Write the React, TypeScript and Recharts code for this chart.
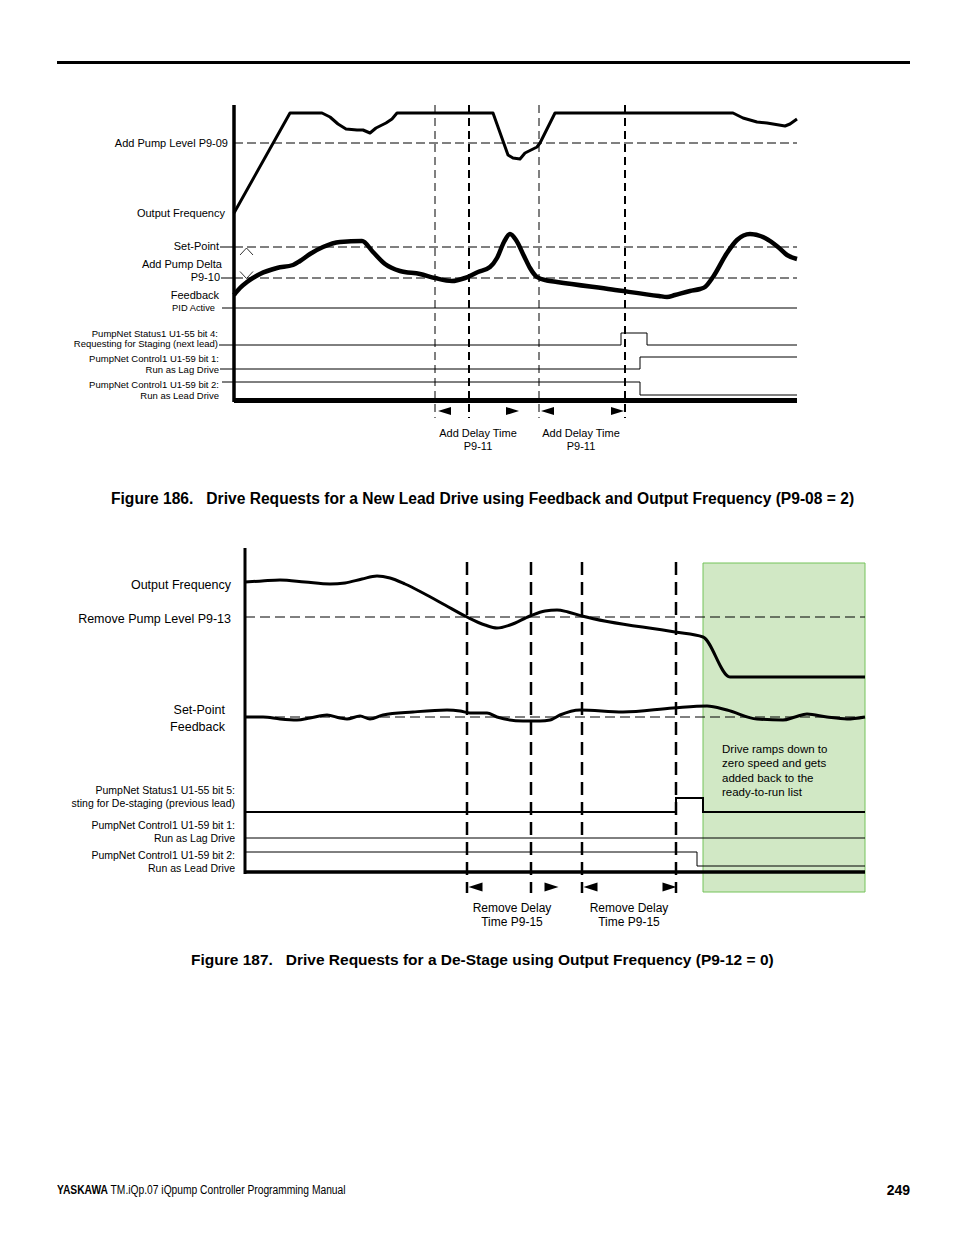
import React from 'react';
import { ComposedChart, Line, Scatter, XAxis, YAxis, ReferenceLine, ReferenceArea } from 'recharts';

const FONT = "'Liberation Sans', Arial, Helvetica, sans-serif";

// ---------- Figure 186 data (t = time from axis, v = level above bottom) ----------
const f186OutputFreq = [
  { t: 0, v: 212 }, { t: 56, v: 312 }, { t: 88, v: 312 }, { t: 96, v: 308 }, { t: 104, v: 301 },
  { t: 112, v: 296 }, { t: 123, v: 295 }, { t: 129, v: 295 }, { t: 136, v: 292 }, { t: 142, v: 297 },
  { t: 152, v: 302 }, { t: 158, v: 306 }, { t: 163, v: 312 }, { t: 259, v: 312 }, { t: 274, v: 270 },
  { t: 279, v: 267 }, { t: 286, v: 266 }, { t: 291, v: 272 }, { t: 303, v: 278 }, { t: 306, v: 282 },
  { t: 321, v: 312 }, { t: 499, v: 312 }, { t: 509, v: 307 }, { t: 523, v: 303 }, { t: 533, v: 302 },
  { t: 551, v: 299 }, { t: 556, v: 301 }, { t: 563, v: 306 },
];
const f186Feedback = [
  { t: 0, v: 130 }, { t: 6, v: 137 }, { t: 13, v: 143 }, { t: 26, v: 151 }, { t: 43, v: 157 },
  { t: 59, v: 160 }, { t: 66, v: 164 }, { t: 76, v: 171 }, { t: 89, v: 178 }, { t: 106, v: 183 },
  { t: 128, v: 184 }, { t: 139, v: 173 }, { t: 151, v: 161 }, { t: 166, v: 154 }, { t: 186, v: 151 },
  { t: 201, v: 147 }, { t: 218, v: 144 }, { t: 231, v: 147 }, { t: 244, v: 153 }, { t: 256, v: 158 },
  { t: 263, v: 167 }, { t: 270, v: 183 }, { t: 276, v: 191 }, { t: 282, v: 185 }, { t: 290, v: 169 },
  { t: 296, v: 157 }, { t: 303, v: 148 }, { t: 313, v: 144.5 }, { t: 323, v: 143 }, { t: 378, v: 135.5 },
  { t: 425, v: 129 }, { t: 433, v: 128 }, { t: 441, v: 130 }, { t: 456, v: 134 }, { t: 466, v: 136 },
  { t: 471, v: 138 }, { t: 479, v: 148 }, { t: 493, v: 172 }, { t: 503, v: 185 }, { t: 516, v: 191 },
  { t: 531, v: 187 }, { t: 544, v: 178 }, { t: 553, v: 170 }, { t: 563, v: 166 },
];
const f186PidActive = [{ t: 0, v: 117 }, { t: 563, v: 117 }];
const f186StagingReq = [{ t: 0, v: 80 }, { t: 387, v: 92 }, { t: 413, v: 80 }, { t: 563, v: 80 }];
const f186RunAsLag = [{ t: 0, v: 56 }, { t: 406, v: 68 }, { t: 563, v: 68 }];
const f186RunAsLead = [{ t: 0, v: 43 }, { t: 406, v: 30 }, { t: 563, v: 30 }];
const f186AddPumpLevel = 282;
const f186SetPoint = 178;
const f186AddPumpDelta = 147;
const f186DeltaMarks = [{ t: 12.5, v: 173.5, dir: 'up' }, { t: 12.5, v: 150, dir: 'down' }];
const f186DelayMarksThin = [201, 305];
const f186DelayMarksThick = [235, 391];
const f186Arrows = [
  { t: 210.5, v: 14, dir: 'left' }, { t: 278.5, v: 14, dir: 'right' },
  { t: 313.5, v: 14, dir: 'left' }, { t: 383.5, v: 14, dir: 'right' },
];
const f186LeftTicks = [282, 212, 178, 161, 147, 130, 117, 80, 56, 43];
const f186LeftLabels = [
  ['Add Pump Level P9-09'], ['Output Frequency'], ['Set-Point'], ['Add Pump Delta'], ['P9-10'],
  ['Feedback'], ['PID Active'],
  ['PumpNet Status1 U1-55 bit 4:', 'Requesting for Staging (next lead)'],
  ['PumpNet Control1 U1-59 bit 1:', 'Run as Lag Drive'],
  ['PumpNet Control1 U1-59 bit 2:', 'Run as Lead Drive'],
];
const f186BottomTicks = [244, 347];
const f186BottomLabels = [['Add Delay Time', 'P9-11'], ['Add Delay Time', 'P9-11']];

// ---------- Figure 187 data ----------
const f187OutputFreq = [
  { t: 0, v: 315 }, { t: 17, v: 316 }, { t: 35, v: 317 }, { t: 60, v: 315 }, { t: 85, v: 313 },
  { t: 100, v: 314 }, { t: 117, v: 318 }, { t: 132, v: 321 }, { t: 145, v: 319 }, { t: 160, v: 313 },
  { t: 178, v: 304 }, { t: 200, v: 292 }, { t: 222, v: 280 }, { t: 240, v: 272 }, { t: 252, v: 269 },
  { t: 265, v: 272 }, { t: 285, v: 281 }, { t: 300, v: 286 }, { t: 312, v: 287 }, { t: 323, v: 285 },
  { t: 337, v: 281 }, { t: 430, v: 265 }, { t: 458, v: 260 }, { t: 485, v: 220 }, { t: 620, v: 220 },
];
const f187Feedback = [
  { t: 0, v: 180 }, { t: 18, v: 180 }, { t: 35, v: 178 }, { t: 52, v: 177 }, { t: 65, v: 179 },
  { t: 82, v: 182 }, { t: 95, v: 179 }, { t: 102, v: 178 }, { t: 115, v: 181 }, { t: 125, v: 178 },
  { t: 138, v: 182 }, { t: 168, v: 185 }, { t: 202, v: 187 }, { t: 215, v: 186 }, { t: 225, v: 184 },
  { t: 242, v: 184 }, { t: 252, v: 180 }, { t: 278, v: 176 }, { t: 295, v: 176 }, { t: 305, v: 177 },
  { t: 315, v: 182 }, { t: 335, v: 187 }, { t: 378, v: 185 }, { t: 428, v: 189 }, { t: 462, v: 191 },
  { t: 482, v: 187 }, { t: 512, v: 178 }, { t: 538, v: 177 }, { t: 550, v: 180 }, { t: 562, v: 183 },
  { t: 582, v: 180 }, { t: 602, v: 178 }, { t: 620, v: 180 },
];
const f187DestagingReq = [{ t: 0, v: 85 }, { t: 431, v: 99 }, { t: 458, v: 85 }, { t: 620, v: 85 }];
const f187RunAsLag = [{ t: 0, v: 59 }, { t: 620, v: 59 }];
const f187RunAsLead = [{ t: 0, v: 45 }, { t: 452, v: 31 }, { t: 620, v: 31 }];
const f187RemovePumpLevel = 280;
const f187SetPoint = 180;
const f187DelayMarks = [222, 286, 337, 431];
const f187RampZone = [458, 620];
const f187RampNote = ['Drive ramps down to', 'zero speed and gets', 'added back to the', 'ready-to-run list'];
const f187Arrows = [
  { t: 230.5, v: 10, dir: 'left' }, { t: 306.5, v: 10, dir: 'right' },
  { t: 345.5, v: 10, dir: 'left' }, { t: 424.5, v: 10, dir: 'right' },
];
const f187LeftTicks = [315, 280, 187, 170, 85, 59, 45];
const f187LeftLabels = [
  ['Output Frequency'], ['Remove Pump Level P9-13'], ['Set-Point'], ['Feedback'],
  ['PumpNet Status1 U1-55 bit 5:', 'sting for De-staging (previous lead)'],
  ['PumpNet Control1 U1-59 bit 1:', 'Run as Lag Drive'],
  ['PumpNet Control1 U1-59 bit 2:', 'Run as Lead Drive'],
];
const f187BottomTicks = [267, 384];
const f187BottomLabels = [['Remove Delay', 'Time P9-15'], ['Remove Delay', 'Time P9-15']];

// label layout (gap from axis, font size, line offsets, leader length)
type LabelStyle = { gap: number; size: number; dy: number[]; leader?: number };
const f186LabelStyle: LabelStyle[] = [
  { gap: 6, size: 11, dy: [0] },
  { gap: 9, size: 11, dy: [0] },
  { gap: 15, size: 11, dy: [-1], leader: 14 },
  { gap: 12, size: 11, dy: [0] },
  { gap: 14, size: 11, dy: [-1], leader: 13 },
  { gap: 15, size: 11, dy: [0] },
  { gap: 19, size: 9.3, dy: [0], leader: 12 },
  { gap: 16, size: 9.5, dy: [-12, -2], leader: 15 },
  { gap: 15, size: 9.5, dy: [-11, 0], leader: 14 },
  { gap: 15, size: 9.5, dy: [2, 13], leader: 12 },
];
const f187LabelStyle: LabelStyle[] = [
  { gap: 14, size: 12.5, dy: [3] },
  { gap: 14, size: 12.5, dy: [2] },
  { gap: 20, size: 12.5, dy: [0] },
  { gap: 20, size: 12.5, dy: [0] },
  { gap: 10, size: 10.5, dy: [-22, -9] },
  { gap: 10, size: 10.5, dy: [-13, 0] },
  { gap: 10, size: 10.5, dy: [3, 16] },
];

const makeLeftTick = (ticks: number[], labels: string[][], styles: LabelStyle[]) => (props: any) => {
  const { x, y, payload } = props;
  const i = ticks.indexOf(payload.value);
  if (i < 0) return <g />;
  const s = styles[i];
  return (
    <g>
      {s.leader ? <line x1={x - s.leader} x2={x} y1={y} y2={y} stroke="#000" strokeWidth={1} /> : null}
      {labels[i].map((line, k) => (
        <text key={k} x={x - s.gap} y={y + s.dy[k]} textAnchor="end" dominantBaseline="central"
          fontSize={s.size} fontFamily={FONT} fill="#000">{line}</text>
      ))}
    </g>
  );
};

const makeBottomTick = (ticks: number[], labels: string[][], size: number, dys: number[]) => (props: any) => {
  const { x, y, payload } = props;
  const i = ticks.indexOf(payload.value);
  if (i < 0) return <g />;
  return (
    <g>
      {labels[i].map((line, k) => (
        <text key={k} x={x} y={y + dys[k]} textAnchor="middle" dominantBaseline="central"
          fontSize={size} fontFamily={FONT} fill="#000">{line}</text>
      ))}
    </g>
  );
};

const makeArrow = (w: number, h: number) => (props: any) => {
  const { cx, cy, payload } = props;
  const half = w / 2;
  const pts = payload.dir === 'left'
    ? `${cx - half},${cy} ${cx + half},${cy - h / 2} ${cx + half},${cy + h / 2}`
    : `${cx + half},${cy} ${cx - half},${cy - h / 2} ${cx - half},${cy + h / 2}`;
  return <polygon points={pts} fill="#000" />;
};

// open chevron marking the Add Pump Delta band
const renderChevron = (props: any) => {
  const { cx, cy, payload } = props;
  const s = payload.dir === 'up' ? -1 : 1;
  const pts = `${cx - 6.5},${cy - s * 3.5} ${cx},${cy + s * 3.5} ${cx + 6.5},${cy - s * 3.5}`;
  return <polyline points={pts} fill="none" stroke="#000" strokeWidth={0.8} />;
};

const lineProps = { dataKey: 'v', stroke: '#000', dot: false, activeDot: false, isAnimationActive: false, legendType: 'none' as const };

const Figure186 = () => (
  <ComposedChart width={760} height={365} margin={{ top: 0, right: 10, bottom: 0, left: 0 }}>
    <XAxis type="number" dataKey="t" domain={[0, 566]} ticks={f186BottomTicks} interval={0}
      axisLine={false} tickLine={false} tickSize={0} tickMargin={0} height={40}
      tick={makeBottomTick(f186BottomTicks, f186BottomLabels, 11, [8, 21])} />
    <YAxis type="number" dataKey="v" domain={[0, 325]} ticks={f186LeftTicks} interval={0}
      axisLine={false} tickLine={false} tickSize={0} tickMargin={0} width={184}
      tick={makeLeftTick(f186LeftTicks, f186LeftLabels, f186LabelStyle)} />

    {[f186AddPumpLevel, f186SetPoint, f186AddPumpDelta].map((lvl) => (
      <ReferenceLine key={lvl} segment={[{ x: 0, y: lvl }, { x: 563, y: lvl }]} stroke="#000" strokeWidth={1} strokeDasharray="9 4" />
    ))}
    {f186DelayMarksThin.map((t) => (
      <ReferenceLine key={t} segment={[{ x: t, y: 320 }, { x: t, y: 7 }]} stroke="#000" strokeWidth={1} strokeDasharray="8 5" />
    ))}
    {f186DelayMarksThick.map((t) => (
      <ReferenceLine key={t} segment={[{ x: t, y: 320 }, { x: t, y: 7 }]} stroke="#000" strokeWidth={2} strokeDasharray="8 5" />
    ))}

    <Line {...lineProps} data={f186PidActive} type="linear" strokeWidth={1} />
    <Line {...lineProps} data={f186StagingReq} type="stepAfter" strokeWidth={1} />
    <Line {...lineProps} data={f186RunAsLag} type="stepAfter" strokeWidth={1} />
    <Line {...lineProps} data={f186RunAsLead} type="stepAfter" strokeWidth={1} />
    <Line {...lineProps} data={f186OutputFreq} type="linear" strokeWidth={3} strokeLinejoin="round" />
    <Line {...lineProps} data={f186Feedback} type="monotone" strokeWidth={4.5} strokeLinejoin="round" />

    <ReferenceLine segment={[{ x: 0, y: 320 }, { x: 0, y: 23 }]} stroke="#000" strokeWidth={3.5} />
    <ReferenceLine segment={[{ x: 0, y: 24.5 }, { x: 563, y: 24.5 }]} stroke="#000" strokeWidth={5} />
    <Scatter data={f186DeltaMarks} shape={renderChevron} isAnimationActive={false} legendType="none" />
    <Scatter data={f186Arrows} shape={makeArrow(13, 8)} isAnimationActive={false} legendType="none" />
  </ComposedChart>
);

const rampNoteLabel = (props: any) => {
  const vb = props.viewBox || {};
  return (
    <g>
      {f187RampNote.map((line, k) => (
        <text key={k} x={vb.x + 19} y={vb.y + 186 + k * 14.3} dominantBaseline="central"
          fontSize={11.5} fontFamily={FONT} fill="#000">{line}</text>
      ))}
    </g>
  );
};

const Figure187 = () => (
  <ComposedChart width={830} height={392} margin={{ top: 0, right: 10, bottom: 0, left: 0 }}>
    <XAxis type="number" dataKey="t" domain={[0, 625]} ticks={f187BottomTicks} interval={0}
      axisLine={false} tickLine={false} tickSize={0} tickMargin={0} height={40}
      tick={makeBottomTick(f187BottomTicks, f187BottomLabels, 12, [11, 25])} />
    <YAxis type="number" dataKey="v" domain={[0, 352]} ticks={f187LeftTicks} interval={0}
      axisLine={false} tickLine={false} tickSize={0} tickMargin={0} width={195}
      tick={makeLeftTick(f187LeftTicks, f187LeftLabels, f187LabelStyle)} />

    <ReferenceArea x1={f187RampZone[0]} x2={f187RampZone[1]} y1={5} y2={334}
      fill="#d1e8c5" fillOpacity={1} stroke="#74c35a" strokeWidth={1} label={rampNoteLabel} />

    {[f187RemovePumpLevel, f187SetPoint].map((lvl) => (
      <ReferenceLine key={lvl} segment={[{ x: 0, y: lvl }, { x: 620, y: lvl }]} stroke="#000" strokeWidth={1} strokeDasharray="10 5" />
    ))}
    {f187DelayMarks.map((t) => (
      <ReferenceLine key={t} segment={[{ x: t, y: 335 }, { x: t, y: 4 }]} stroke="#000" strokeWidth={2.5} strokeDasharray="13 7" />
    ))}

    <Line {...lineProps} data={f187DestagingReq} type="stepAfter" strokeWidth={2} />
    <Line {...lineProps} data={f187RunAsLag} type="linear" strokeWidth={1} />
    <Line {...lineProps} data={f187RunAsLead} type="stepAfter" strokeWidth={1} />
    <Line {...lineProps} data={f187OutputFreq} type="monotone" strokeWidth={3} strokeLinejoin="round" />
    <Line {...lineProps} data={f187Feedback} type="monotone" strokeWidth={3} strokeLinejoin="round" />

    <ReferenceLine segment={[{ x: 0, y: 349 }, { x: 0, y: 23 }]} stroke="#000" strokeWidth={3} />
    <ReferenceLine segment={[{ x: 0, y: 25 }, { x: 620, y: 25 }]} stroke="#000" strokeWidth={3.5} />
    <Scatter data={f187Arrows} shape={makeArrow(14, 9)} isAnimationActive={false} legendType="none" />
  </ComposedChart>
);

const captionStyle: React.CSSProperties = {
  position: 'absolute', fontFamily: FONT, fontWeight: 'bold', fontSize: 15.6, lineHeight: '18px',
  whiteSpace: 'pre', color: '#000',
};

export default function App() {
  return (
    <div style={{ position: 'absolute', left: 0, top: 0, width: 954, height: 1235, background: '#fff', overflow: 'hidden' }}>
      <div style={{ position: 'absolute', left: 57, top: 61, width: 853, height: 3, background: '#000' }} />

      <div style={{ position: 'absolute', left: 50, top: 100 }}>
        <Figure186 />
      </div>
      <div style={{ ...captionStyle, left: 111, top: 490 }}>
        {'Figure 186.   Drive Requests for a New Lead Drive using Feedback and Output Frequency (P9-08 = 2)'}
      </div>

      <div style={{ position: 'absolute', left: 50, top: 545 }}>
        <Figure187 />
      </div>
      <div style={{ ...captionStyle, left: 191, top: 951, fontSize: 15.5 }}>
        {'Figure 187.   Drive Requests for a De-Stage using Output Frequency (P9-12 = 0)'}
      </div>

      <div style={{ position: 'absolute', left: 57, top: 1182, fontFamily: FONT, fontSize: 12, lineHeight: '16px', whiteSpace: 'pre', color: '#000', transform: 'scaleX(0.855)', transformOrigin: 'left center' }}>
        <span style={{ fontWeight: 'bold' }}>YASKAWA</span>{' TM.iQp.07 iQpump Controller Programming Manual'}
      </div>
      <div style={{ position: 'absolute', right: 954 - 910, top: 1181, fontFamily: FONT, fontWeight: 'bold', fontSize: 14, lineHeight: '18px', color: '#000' }}>
        249
      </div>
    </div>
  );
}
